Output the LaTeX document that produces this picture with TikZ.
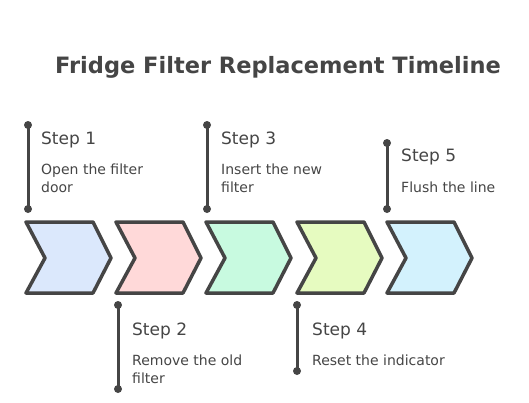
\documentclass[tikz,border=0pt]{standalone}
\usepackage{fontspec}
\setmainfont{DejaVu Sans}
\usetikzlibrary{positioning}

\definecolor{ink}{HTML}{454545}
\definecolor{fillA}{HTML}{DBE8FC}
\definecolor{fillB}{HTML}{FFD9D9}
\definecolor{fillC}{HTML}{C8FAE0}
\definecolor{fillD}{HTML}{E6FBC0}
\definecolor{fillE}{HTML}{D3F2FD}

\begin{document}
\begin{tikzpicture}[x=1pt,y=-1pt,
  every node/.style={inner sep=0pt,text=ink},
  steptitle/.style={anchor=west,font=\fontsize{17}{19}\selectfont},
  stepnote/.style={anchor=north west,align=left,font=\fontsize{14}{18}\selectfont},
  bar/.style={draw=ink,line width=3pt,line cap=round},
  chevron/.style={draw=ink,line width=3.5pt,line join=round}]
\useasboundingbox (0,0) rectangle (529,402);

\node[anchor=west,font=\bfseries\fontsize{22.5}{26}\selectfont] (title) at (55,67) {Fridge Filter Replacement Timeline};

% arrows of the timeline
\foreach \x/\col in {26/fillA,116/fillB,206/fillC,297/fillD,387/fillE}
  \filldraw[chevron,fill=\col] (\x,222) -- ++(67,0) -- ++(18,36) -- ++(-18,35) -- ++(-67,0) -- ++(19,-35) -- cycle;

% bar ends
\coordinate (a1) at (28,125);  \coordinate (b1) at (28,209);
\coordinate (a2) at (118,305); \coordinate (b2) at (118,389);
\coordinate (a3) at (207,125); \coordinate (b3) at (207,209);
\coordinate (a4) at (297,305); \coordinate (b4) at (297,371);
\coordinate (a5) at (387,143); \coordinate (b5) at (387,209);

\foreach \from/\to in {a1/b1,a2/b2,a3/b3,a4/b4,a5/b5}
{
  \draw[bar] (\from) -- (\to);
  \fill[ink] (\from) circle (4);
  \fill[ink] (\to) circle (4);
}

% texts
\node[steptitle] (s1) at (41,140) {Step 1};
\node[stepnote] (n1) at (41,164) {Open the filter\\door};
\node[steptitle] (s2) at (132,331) {Step 2};
\node[stepnote] (n2) at (132,355) {Remove the old\\filter};
\node[steptitle] (s3) at (221,140) {Step 3};
\node[stepnote] (n3) at (221,164) {Insert the new\\filter};
\node[steptitle] (s4) at (312,331) {Step 4};
\node[stepnote] (n4) at (312,355) {Reset the indicator};
\node[steptitle] (s5) at (401,157) {Step 5};
\node[stepnote] (n5) at (401,182) {Flush the line};
\end{tikzpicture}
\end{document}
